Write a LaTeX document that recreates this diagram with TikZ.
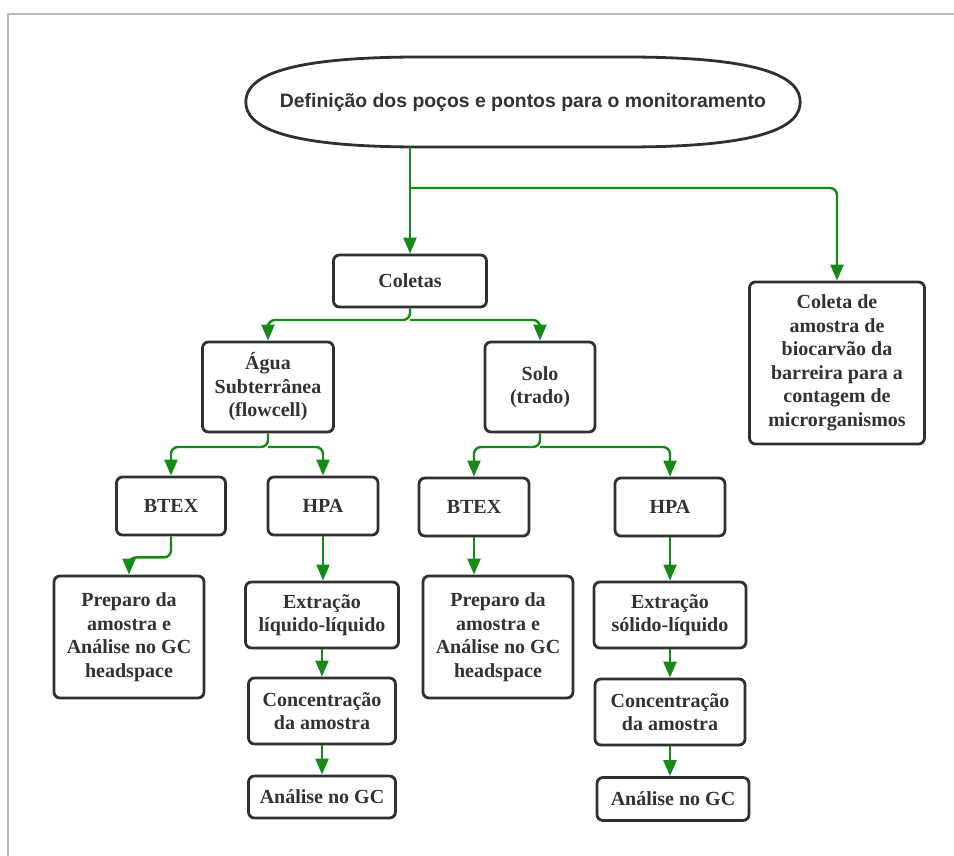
\documentclass[tikz,border=0pt]{standalone}
\usepackage{fontspec}
\setmainfont{Liberation Serif}
\newfontfamily\titlefont{Liberation Sans}
\usepackage{tikz}
\usetikzlibrary{arrows.meta, positioning}
\definecolor{verde}{RGB}{22,138,22}
\definecolor{contorno}{RGB}{48,48,48}
\definecolor{texto}{RGB}{50,50,50}
\definecolor{moldura}{RGB}{185,185,185}
\tikzset{
  caixa/.style={draw=contorno, line width=2.8pt, rounded corners=6pt, align=center,
    text=texto, inner sep=2pt, font=\bfseries\fontsize{20}{23.5}\selectfont},
  seta/.style={draw=verde, line width=2.4pt, rounded corners=7pt,
    -{Triangle[length=16pt,width=13pt]}},
}

\begin{document}
\begin{tikzpicture}[x=1pt, y=-1pt]
    \useasboundingbox (0,0) rectangle (954,856);
    % moldura
    \draw[moldura, line width=2pt] (954,14) -- (8,14) -- (8,856);
    \node[minimum width=554pt, minimum height=90pt, inner sep=0pt,
          font=\titlefont\bfseries\fontsize{19.4}{22}\selectfont, text=texto] (def) at (523,102)
          {Definição dos poços e pontos para o monitoramento};
    \draw[contorno, line width=2.8pt] (def.west) .. controls ++(0,-24) and ++(-140,0) .. (420,57)
        -- (626,57) .. controls ++(140,0) and ++(0,-24) .. (def.east)
        .. controls ++(0,24) and ++(140,0) .. (626,147)
        -- (420,147) .. controls ++(-140,0) and ++(0,24) .. cycle;
    \node[caixa, minimum width=153pt, minimum height=52pt] (coletas) at (410,281) {Coletas};
    \node[caixa, minimum width=175pt, minimum height=162pt] (biocarvao) at (837,363)
          {Coleta de\\amostra de\\biocarvão da\\barreira para a\\contagem de\\microrganismos};
    \node[caixa, minimum width=131pt, minimum height=90pt] (agua) at (268,387) {Água\\Subterrânea\\(flowcell)};
    \node[caixa, minimum width=110pt, minimum height=90pt] (solo) at (540,387) {Solo\\(trado)};
    % ramo agua
    \node[caixa, minimum width=109pt, minimum height=58pt] (btexA) at (171,506) {BTEX};
    \node[caixa, minimum width=110pt, minimum height=58pt] (hpaA) at (323,506) {HPA};
    \node[caixa, minimum width=150pt, minimum height=122pt] (prepA) at (129,637) {Preparo da\\amostra e\\Análise no GC\\headspace};
    \node[caixa, minimum width=153pt, minimum height=66pt] (extA) at (322,615) {Extração\\líquido-líquido};
    \node[caixa, minimum width=147pt, minimum height=66pt] (concA) at (322,711) {Concentração\\da amostra};
    \node[caixa, minimum width=147pt, minimum height=42pt] (anaA) at (322,797) {Análise no GC};
    % ramo solo
    \node[caixa, minimum width=110pt, minimum height=58pt] (btexB) at (474,507) {BTEX};
    \node[caixa, minimum width=110pt, minimum height=58pt] (hpaB) at (670,507) {HPA};
    \node[caixa, minimum width=150pt, minimum height=122pt] (prepB) at (498,637) {Preparo da\\amostra e\\Análise no GC\\headspace};
    \node[caixa, minimum width=152pt, minimum height=66pt] (extB) at (670,615) {Extração\\sólido-líquido};
    \node[caixa, minimum width=150pt, minimum height=66pt] (concB) at (670,712) {Concentração\\da amostra};
    \node[caixa, minimum width=152pt, minimum height=43pt] (anaB) at (673,799) {Análise no GC};

    % conectores
    \coordinate (topo) at (coletas.north |- def.south);
    \coordinate (desvio) at (410,188);
    \draw[seta] (topo) -- (coletas.north);
    \draw[seta] (desvio) -| (biocarvao.north);
    \coordinate (c1) at (410,320);
    \draw[seta] (coletas.south) -- (c1) -| (agua.north);
    \draw[seta] (c1) -| (solo.north);
    \coordinate (c2) at (268,447);
    \draw[seta] (agua.south) -- (c2) -| (btexA.north);
    \draw[seta] (c2) -| (hpaA.north);
    \coordinate (c3) at (540,447);
    \draw[seta] (solo.south) -- (c3) -| (btexB.north);
    \draw[seta] (c3) -| (hpaB.north);
    \draw[seta] (btexA.south) -- ++(0,21) -| (prepA.north);
    \draw[seta] (btexB.south) -- (btexB.south |- prepB.north);
    \foreach \a/\b in {hpaA/extA, extA/concA, concA/anaA, hpaB/extB, extB/concB, concB/anaB} {
        \draw[seta] (\a.south) -- (\a.south |- \b.north);
    }
\end{tikzpicture}
\end{document}
